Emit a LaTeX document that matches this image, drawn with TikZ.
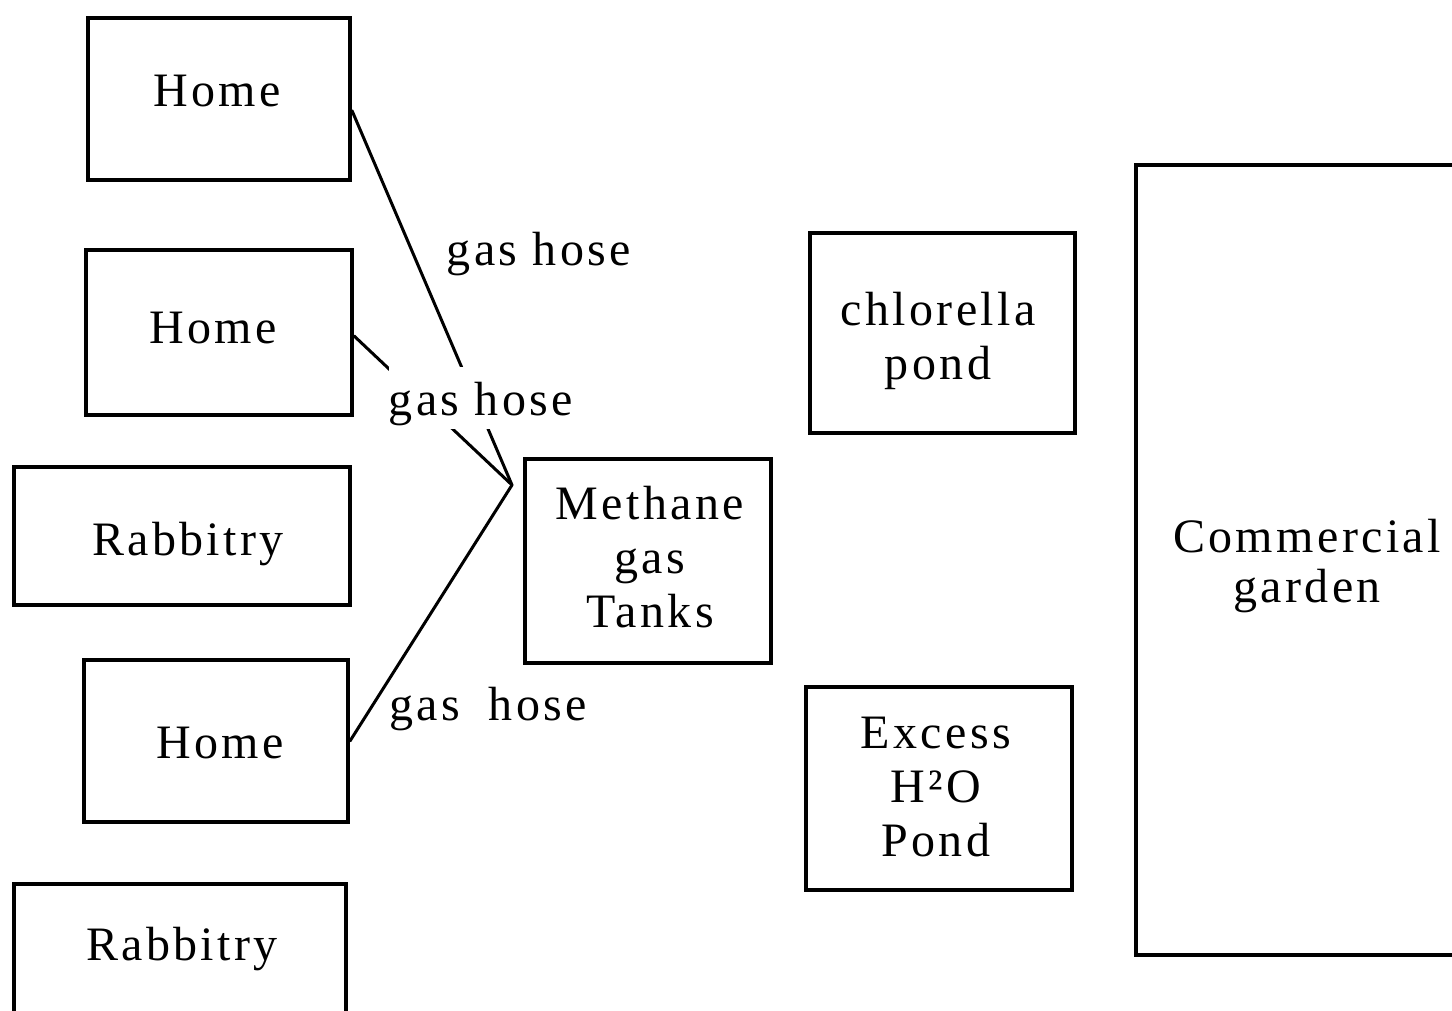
\documentclass[tikz,border=0pt]{standalone}
\usepackage{fontspec}
\setmainfont{Liberation Serif}[LetterSpace=7]
\usetikzlibrary{fit,calc}
\tikzset{
  framebox/.style={draw, line width=2pt, inner sep=0pt, fill=none},
  lbl/.style={inner sep=0pt, font=\fontsize{24}{27}\selectfont},
  mlbl/.style={inner sep=0pt, align=center, font=\fontsize{24}{27}\selectfont},
  hose/.style={line width=1.5pt, line cap=round},
}
\begin{document}
\begin{tikzpicture}[x=0.5pt, y=-0.5pt]
\useasboundingbox (0,0) rectangle (1452,1011);
\clip (0,0) rectangle (1452,1011);
\fill[white] (0,0) rectangle (1452,1011);

% boxes
\node[framebox, fit={(88,18) (350,180)}] (home1) {};
\node[framebox, fit={(86,250) (352,415)}] (home2) {};
\node[framebox, fit={(14,467) (350,605)}] (rab1) {};
\node[framebox, fit={(84,660) (348,822)}] (home3) {};
\node[framebox, fit={(14,884) (346,1040)}] (rab2) {};
\node[framebox, fit={(525,459) (771,663)}] (meth) {};
\node[framebox, fit={(810,233) (1075,433)}] (chlor) {};
\node[framebox, fit={(806,687) (1072,890)}] (excess) {};
\node[framebox, fit={(1136,165) (1478,955)}] (garden) {};

% box texts
\node[lbl, anchor=base] (home1t) at (217,107) {Home};
\node[lbl, anchor=base] (home2t) at (213,343) {Home};
\node[lbl, anchor=base] (rab1t) at (188,555) {Rabbitry};
\node[lbl, anchor=base] (home3t) at (220,758) {Home};
\node[lbl, anchor=base] (rab2t) at (182,960) {Rabbitry};
\node[mlbl] (metht) at (650,557) {Methane\\gas\\Tanks};
\node[mlbl] (chlort) at (938,341) {chlorella\\pond};
\node[mlbl] (excesst) at (936,787) {Excess\\H²O\\Pond};
\node[mlbl, font=\fontsize{24}{25}\selectfont] (gardent) at (1307,566) {Commercial\\garden};

% hoses
\coordinate (meet) at (512,485);
\draw[hose] ($(home1.north east)!0.57!(home1.south east)$) -- (meet);
\draw[hose] ($(home2.north east)!0.52!(home2.south east)$) -- (meet);
\draw[hose] (home3.east) -- (meet);

% hose labels
\node[lbl, anchor=base] (hose1) at (539,265) {gas hose};
\node[lbl, anchor=base, fill=white, text height=24pt, text depth=7pt] (hose2) at (481,415) {gas hose};
\node[lbl, anchor=base] (hose3) at (488,720) {gas\hspace{0.6em}hose};
\end{tikzpicture}
\end{document}
